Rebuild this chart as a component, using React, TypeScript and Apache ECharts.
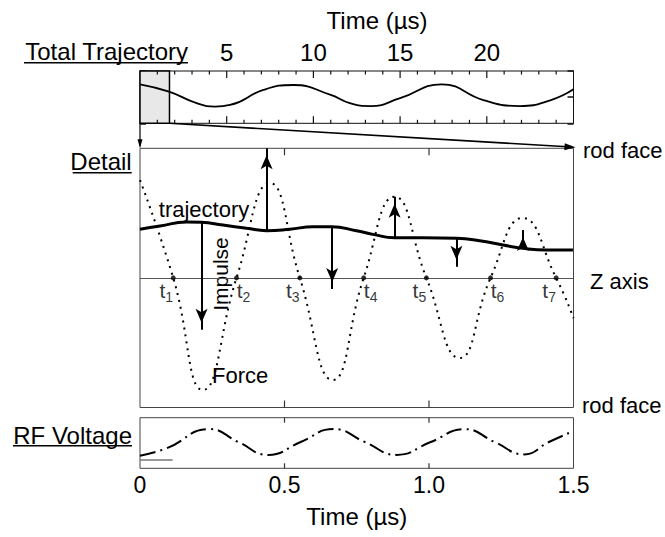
import React, { useEffect, useRef } from 'react';
import * as echarts from 'echarts';

const FONT = '"Liberation Sans", Arial, Helvetica, sans-serif';

// ---------- Top panel: total trajectory (time in µs, position -1..1 of box) ----------
const totalTime = [0, 1.67, 3.27, 4.33, 5.19, 7.11, 8.85, 11.0, 12.1, 13.3, 15.0, 17.4, 19.8, 21.9, 23.7, 25.0];
const totalPos = [0.49, 0.21, -0.23, -0.36, -0.3, 0.275, 0.465, 0.084, -0.23, -0.34, -0.04, 0.49, -0.11, -0.34, -0.11, 0.3];
const zoomWindow = [0, 1.7]; // shaded detail window, µs
const topRange = [0, 25];
const topTicks = [1, 2, 3, 4, 5, 6, 7, 8, 9, 10, 11, 12, 13, 14, 15, 16, 17, 18, 19, 20, 21, 22, 23, 24];
const topMajorTicks = [5, 10, 15, 20];

// ---------- Detail panel (time in µs, position -1..1 between rod faces) ----------
const detailRange = [0, 1.5];
const detailTicks = [0.5, 1.0];
const trajTime = [0, 0.069, 0.161, 0.213, 0.287, 0.369, 0.438, 0.518, 0.599, 0.663, 0.749, 0.806, 0.881, 0.979, 1.095, 1.175, 1.256, 1.325, 1.406, 1.498];
const trajPos = [0.375, 0.4, 0.431, 0.429, 0.408, 0.383, 0.364, 0.375, 0.395, 0.395, 0.364, 0.336, 0.31, 0.31, 0.306, 0.287, 0.254, 0.228, 0.215, 0.215];

const forceTime = [0, 0.115, 0.218, 0.334, 0.449, 0.553, 0.667, 0.774, 0.881, 0.991, 1.106, 1.213, 1.324, 1.44, 1.5];
const forceVal = [0.755, 0, -0.865, 0, 0.732, 0, -0.788, 0, 0.626, 0, -0.618, 0, 0.462, 0, -0.31];

const crossTime = [0.115, 0.334, 0.553, 0.774, 0.991, 1.213, 1.44];

const impulseTime = [0.213, 0.438, 0.665, 0.881, 1.095, 1.325];
const impulseFrom = [0.429, 0.364, 0.395, 0.31, 0.306, 0.228];
const impulseTo = [-0.4, 1.0, -0.086, 0.627, 0.086, 0.37];

// ---------- RF voltage panel ----------
const rfTime = [0, 0.092, 0.24, 0.34, 0.444, 0.556, 0.669, 0.778, 0.888, 1.006, 1.123, 1.227, 1.33, 1.415, 1.5];
const rfVal = [-0.5, -0.21, 0.55, 0.04, -0.47, 0.04, 0.55, 0.04, -0.47, 0.04, 0.55, 0.04, -0.45, 0.04, 0.47];
const rfRefLevel = -0.68;
const rfRefEnd = 0.113;

const bottomTicks = ['0', '0.5', '1.0', '1.5'];

const zip = (a: number[], b: number[]) => a.map((v, i) => [v, b[i]]);

// panel boxes (pixels)
const PANELS = [
  { left: 140, top: 71, width: 433.5, height: 52.3 },
  { left: 140, top: 148.3, width: 433.5, height: 259.2 },
  { left: 140, top: 417.7, width: 433.5, height: 50.6 },
];

function buildOption(): any {
  const grids = PANELS.map((g, i) => ({
    ...g,
    show: true,
    borderColor: i === 0 ? '#111' : '#444',
    borderWidth: 1,
    backgroundColor: 'transparent',
  }));

  const topX = (position: 'top' | 'bottom', labels: boolean) => ({
    type: 'value',
    gridIndex: 0,
    position,
    min: topRange[0],
    max: topRange[1],
    interval: 5,
    axisLine: { show: false, onZero: false },
    splitLine: { show: false },
    axisTick: { show: false },
    axisLabel: {
      show: labels,
      margin: 7,
      fontSize: 24,
      fontFamily: FONT,
      color: '#000',
      formatter: (v: number) => (v === topRange[0] || v === topRange[1] ? '' : String(v)),
    },
  });

  const detX = (gridIndex: number, position: 'top' | 'bottom', labels: boolean) => ({
    type: 'value',
    gridIndex,
    position,
    min: detailRange[0],
    max: detailRange[1],
    interval: 0.5,
    axisLine: { show: false, onZero: false },
    splitLine: { show: false },
    axisTick: { show: false },
    axisLabel: {
      show: labels,
      margin: 5,
      fontSize: 23,
      fontFamily: FONT,
      color: '#000',
      formatter: (v: number) => bottomTicks[Math.round(v / 0.5)] ?? '',
    },
    ...(labels
      ? {
          name: 'Time (µs)',
          nameLocation: 'middle',
          nameGap: 36,
          nameTextStyle: { fontSize: 24, fontFamily: FONT, color: '#000' },
        }
      : {}),
  });

  const xAxis = [
    topX('top', true),
    topX('bottom', false),
    detX(1, 'top', false),
    detX(1, 'bottom', false),
    detX(2, 'top', false),
    detX(2, 'bottom', true),
  ];

  const topY = (position: 'left' | 'right') => ({
    type: 'value',
    gridIndex: 0,
    position,
    min: -1,
    max: 1,
    interval: 1,
    axisLine: { show: true, onZero: false, lineStyle: { color: '#111', width: 1 } },
    splitLine: { show: false },
    axisLabel: { show: false },
    axisTick: { show: true, inside: true, length: 6, lineStyle: { color: '#111', width: 1.5 } },
  });

  const yAxis = [
    topY('left'),
    topY('right'),
    { type: 'value', gridIndex: 1, min: -1, max: 1, show: false, axisLine: { onZero: false } },
    { type: 'value', gridIndex: 2, min: -1, max: 1, show: false, axisLine: { onZero: false } },
  ];

  const series: any[] = [
    {
      name: 'Total Trajectory',
      type: 'line',
      xAxisIndex: 0,
      yAxisIndex: 0,
      data: zip(totalTime, totalPos),
      smooth: 0.5,
      symbol: 'none',
      lineStyle: { color: '#000', width: 1.8 },
      z: 3,
      markArea: {
        silent: true,
        itemStyle: { color: '#e8e8e8', borderColor: '#000', borderWidth: 1.5 },
        data: [[{ coord: [zoomWindow[0], -1] }, { coord: [zoomWindow[1], 1] }]],
      },
    },
    {
      name: 'Force',
      type: 'line',
      xAxisIndex: 2,
      yAxisIndex: 2,
      data: zip(forceTime, forceVal),
      smooth: 0.5,
      symbol: 'none',
      lineStyle: { color: '#000', width: 2, type: [2, 5] },
      z: 2,
      markLine: {
        silent: true,
        symbol: ['none', 'none'],
        label: { show: false },
        emphasis: { disabled: true },
        lineStyle: { color: '#555', width: 1, type: 'solid' },
        data: [{ yAxis: 0 }],
      },
    },
    {
      name: 'trajectory',
      type: 'line',
      xAxisIndex: 2,
      yAxisIndex: 2,
      data: zip(trajTime, trajPos),
      smooth: 0.5,
      symbol: 'none',
      lineStyle: { color: '#000', width: 3 },
      z: 4,
      markLine: {
        silent: true,
        symbol: ['none', 'arrow'],
        symbolSize: [9, 14],
        symbolOffset: [0, [0, 7]],
        label: { show: false },
        lineStyle: { color: '#000', width: 2, type: 'solid' },
        emphasis: { disabled: true },
        data: impulseTime.map((t, i) => [
          { coord: [t, impulseFrom[i]] },
          { coord: [t, impulseTo[i]] },
        ]),
      },
    },
    {
      name: 'crossings',
      type: 'scatter',
      xAxisIndex: 2,
      yAxisIndex: 2,
      symbolSize: 5,
      itemStyle: { color: '#000' },
      z: 5,
      data: crossTime.map((t, i) => ({
        value: [t, 0],
        label: { offset: [i % 2 === 0 ? -7 : 7, 14] },
      })),
      label: {
        show: true,
        position: 'inside',
        color: '#000',
        fontFamily: FONT,
        formatter: (p: any) => `{t|t}{s|${p.dataIndex + 1}}`,
        rich: {
          t: { fontSize: 21, lineHeight: 20, verticalAlign: 'top', color: '#000', fontFamily: FONT },
          s: { fontSize: 14, lineHeight: 24, verticalAlign: 'bottom', color: '#000', fontFamily: FONT },
        },
      },
    },
    {
      name: 'RF Voltage',
      type: 'line',
      xAxisIndex: 5,
      yAxisIndex: 3,
      data: zip(rfTime, rfVal),
      smooth: 0.5,
      symbol: 'none',
      lineStyle: { color: '#000', width: 2, type: [16, 5, 2, 5] },
      markLine: {
        silent: true,
        symbol: ['none', 'none'],
        label: { show: false },
        emphasis: { disabled: true },
        lineStyle: { color: '#777', width: 1.5, type: 'solid' },
        data: [[{ coord: [0, rfRefLevel] }, { coord: [rfRefEnd, rfRefLevel] }]],
      },
    },
  ];

  return {
    animation: false,
    backgroundColor: '#fff',
    textStyle: { fontFamily: FONT },
    grid: grids,
    xAxis,
    yAxis,
    series,
  };
}

function text(t: string, x: number, y: number, size: number, align: string, extra: any = {}) {
  return {
    type: 'text',
    x,
    y,
    silent: true,
    ...extra,
    style: {
      text: t,
      fill: '#000',
      fontSize: size,
      fontFamily: FONT,
      align,
      verticalAlign: 'middle',
      textAlign: align,
      textVerticalAlign: 'middle',
    },
  };
}

function underline(x1: number, x2: number, y: number) {
  return { type: 'line', silent: true, shape: { x1, y1: y, x2, y2: y }, style: { stroke: '#000', lineWidth: 1.6 } };
}

function arrowHead(tip: number[], from: number[], len: number, half: number) {
  const dx = tip[0] - from[0];
  const dy = tip[1] - from[1];
  const d = Math.hypot(dx, dy) || 1;
  const ux = dx / d;
  const uy = dy / d;
  const bx = tip[0] - ux * len;
  const by = tip[1] - uy * len;
  return {
    type: 'polygon',
    silent: true,
    shape: {
      points: [
        [tip[0], tip[1]],
        [bx - uy * half, by + ux * half],
        [bx + uy * half, by - ux * half],
      ],
    },
    style: { fill: '#000' },
  };
}

export default function App() {
  const ref = useRef<HTMLDivElement>(null);
  useEffect(() => {
    const chart = echarts.init(ref.current!, null, { renderer: 'svg' });
    chart.setOption(buildOption());

    const px = (seriesIndex: number, v: number[]) => chart.convertToPixel({ seriesIndex }, v) as number[];

    // inward tick marks on the top and bottom edges, placed through each panel's axes
    const ticks: any[] = [];
    const addTicks = (seriesIndex: number, values: number[], lenOf: (t: number) => number, color: string) => {
      values.forEach((t) => {
        const top = px(seriesIndex, [t, 1]);
        const bot = px(seriesIndex, [t, -1]);
        const len = lenOf(t);
        ticks.push({ type: 'line', z: 100, silent: true, shape: { x1: top[0], y1: top[1], x2: top[0], y2: top[1] + len }, style: { stroke: color, lineWidth: 1.2 } });
        ticks.push({ type: 'line', z: 100, silent: true, shape: { x1: bot[0], y1: bot[1], x2: bot[0], y2: bot[1] - len }, style: { stroke: color, lineWidth: 1.2 } });
      });
    };
    addTicks(0, topTicks, (t) => (topMajorTicks.includes(t) ? 7 : 3.5), '#111');
    addTicks(1, detailTicks, () => 7, '#333');
    addTicks(4, detailTicks, () => 5, '#333');

    const a0 = px(0, [topRange[0], -1]);
    const a1 = px(1, [detailRange[0], 1]);
    const b0 = px(0, [zoomWindow[1], -1]);
    const b1 = px(1, [detailRange[1], 1]);
    const b1tip = [b1[0] + 2, b1[1] - 1];

    const elements: any[] = [
      ...ticks,
      text('Time (µs)', 377, 20, 24, 'center'),
      text('Total Trajectory', 188, 51.5, 24, 'right'),
      underline(24, 188, 62.7),
      text('Detail', 131.7, 161.5, 24, 'right'),
      underline(72.7, 131.7, 172.7),
      text('RF Voltage', 132, 435, 24, 'right'),
      underline(13, 132, 445.7),
      text('rod face', 583, 150.8, 22, 'left'),
      text('rod face', 582, 405, 22, 'left'),
      text('Z axis', 590, 281.5, 22, 'left'),
      text('trajectory', 204, 209, 22, 'center'),
      text('Force', 212, 375.8, 22, 'left'),
      text('Impulse', 220, 274, 21, 'center', { rotation: Math.PI / 2 }),
      { type: 'line', silent: true, shape: { x1: a0[0], y1: a0[1], x2: a1[0], y2: a1[1] - 2 }, style: { stroke: '#000', lineWidth: 1.2 } },
      arrowHead([a1[0], a1[1]], a0, 9, 2.5),
      { type: 'line', silent: true, shape: { x1: b0[0], y1: b0[1], x2: b1tip[0] - 8, y2: b1tip[1] - 0.5 }, style: { stroke: '#000', lineWidth: 1.6 } },
      arrowHead(b1tip, b0, 11, 3.5),
    ];
    chart.setOption({ graphic: { elements } });
    return () => chart.dispose();
  }, []);
  return (
    <div
      ref={ref}
      style={{ position: 'fixed', left: 0, top: 0, width: 665, height: 537, background: '#fff' }}
    />
  );
}
